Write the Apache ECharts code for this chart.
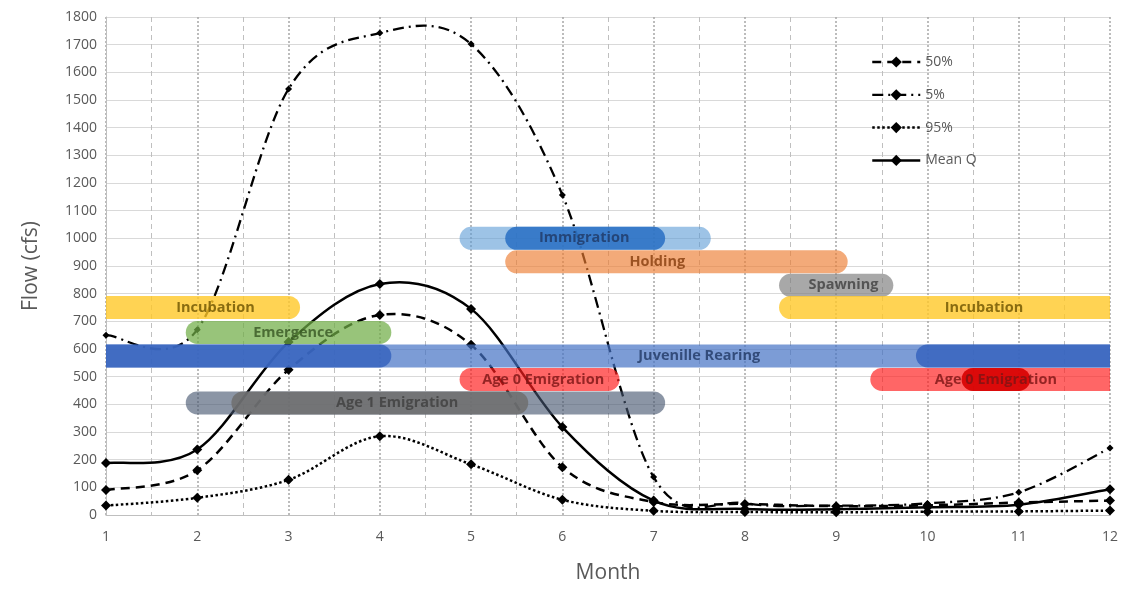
<!DOCTYPE html>
<html>
<head>
<meta charset="utf-8">
<script src="https://cdn.jsdelivr.net/npm/echarts@6/dist/echarts.min.js"></script>
<style>
  html, body { margin: 0; padding: 0; background: #fff; }
  #chart { width: 1134px; height: 589px; }
</style>
</head>
<body>
<div id="chart"></div>
<script>
// Monthly flow exceedance values (cfs)
const months = [1, 2, 3, 4, 5, 6, 7, 8, 9, 10, 11, 12];
const flow50 = [90, 162, 525, 723, 615, 173, 47, 40, 32, 35, 45, 52];
const flow5 = [650, 670, 1540, 1742, 1702, 1157, 137, 43, 34, 42, 82, 242];
const flow95 = [34, 62, 127, 285, 183, 55, 15, 11, 10, 12, 13, 16];
const meanQ = [188, 237, 625, 835, 745, 318, 52, 22, 21, 28, 37, 93];

// Life-stage periods: month span and the flow level each band is drawn at
const phaseNames = ['Incubation', 'Emergence', 'Juvenille Rearing', 'Juvenille Rearing', 'Juvenille Rearing',
  'Immigration', 'Immigration', 'Holding', 'Spawning', 'Incubation',
  'Age 0 Emigration', 'Age 0 Emigration', 'Age 0 Emigration', 'Age 1 Emigration', 'Age 1 Emigration'];
const phaseStart = [1, 2, 1, 1, 10, 5, 5.5, 5.5, 8.5, 8.5, 5, 9.5, 10.5, 2, 2.5];
const phaseEnd = [3, 4, 12, 4, 12, 7.5, 7, 9, 9.5, 12, 6.5, 12, 11, 7, 5.5];
const phaseFlow = [750, 660, 575, 575, 575, 1000, 1000, 915, 830, 750, 490, 490, 490, 405, 405];

// Band captions
const captionText = ['Incubation', 'Emergence', 'Juvenille Rearing', 'Immigration', 'Holding',
  'Spawning', 'Incubation', 'Age 0 Emigration', 'Age 0 Emigration', 'Age 1 Emigration'];
const captionMonth = [2.2, 3.05, 7.5, 6.24, 7.04, 9.08, 10.62, 5.79, 10.75, 4.19];
const captionFlow = [750, 660, 575, 1000, 915, 830, 750, 490, 490, 405];

// Band colours (one per band) and caption colours
const bandColors = [
  'rgba(255,200,40,0.8)', 'rgba(112,173,71,0.72)', 'rgba(68,114,196,0.7)', 'rgba(55,100,190,0.85)', 'rgba(55,100,190,0.85)',
  'rgba(91,155,213,0.6)', 'rgba(40,110,195,0.85)', 'rgba(237,125,49,0.65)', 'rgba(127,127,127,0.68)', 'rgba(255,200,40,0.8)',
  'rgba(255,30,30,0.68)', 'rgba(255,30,30,0.68)', 'rgba(215,0,0,0.9)', 'rgba(68,84,110,0.62)', 'rgba(112,112,112,0.88)'
];
const captionColors = ['#6b5200', '#375623', '#203864', '#1f3864', '#843c0c', '#3f3f3f', '#6b5200', '#7b1414', '#7b1414', '#3f3f3f'];

const BAND_HEIGHT = 23;

const flowDefs = [
  { name: '50%', values: flow50, dash: [9, 6], size: 10, width: 2.5 },
  { name: '5%', values: flow5, dash: [11, 5, 2, 5], size: 7, width: 2.3 },
  { name: '95%', values: flow95, dash: [2.5, 2.5], size: 10, width: 2.5 },
  { name: 'Mean Q', values: meanQ, dash: 'solid', size: 10, width: 2.5 }
];

// Smoothed curve through the points (cardinal spline, control points at 1/6 of neighbour span)
function curveRenderer(values, def) {
  return function (params, api) {
    if (params.dataIndex !== 0) return null;
    const pts = months.map((m, i) => api.coord([m, values[i]]));
    const n = pts.length;
    let d = 'M' + pts[0][0] + ' ' + pts[0][1];
    for (let i = 0; i < n - 1; i++) {
      const p0 = pts[Math.max(i - 1, 0)];
      const p1 = pts[i];
      const p2 = pts[i + 1];
      const p3 = pts[Math.min(i + 2, n - 1)];
      const c1x = p1[0] + (p2[0] - p0[0]) / 6;
      const c1y = p1[1] + (p2[1] - p0[1]) / 6;
      const c2x = p2[0] - (p3[0] - p1[0]) / 6;
      const c2y = p2[1] - (p3[1] - p1[1]) / 6;
      d += ' C' + c1x + ' ' + c1y + ' ' + c2x + ' ' + c2y + ' ' + p2[0] + ' ' + p2[1];
    }
    return {
      type: 'path',
      shape: { pathData: d },
      style: {
        fill: null,
        stroke: '#000',
        lineWidth: def.width,
        lineDash: def.dash === 'solid' ? null : def.dash
      },
      silent: true
    };
  };
}

const curveSeries = flowDefs.map(def => ({
  name: def.name + ' curve',
  type: 'custom',
  coordinateSystem: 'cartesian2d',
  z: 2,
  clip: true,
  data: [[months[0], def.values[0]]],
  renderItem: curveRenderer(def.values, def)
}));

// Diamond markers at each monthly value (also feed the legend)
const markerSeries = flowDefs.map(def => ({
  name: def.name,
  type: 'line',
  data: months.map((m, i) => [m, def.values[i]]),
  symbol: 'diamond',
  symbolSize: def.size,
  z: 2,
  itemStyle: { color: '#000' },
  lineStyle: { opacity: 0 }
}));

// Rounded life-stage bands, cut flat where they run past the plot area
const bandSeries = {
  name: 'bands',
  type: 'custom',
  coordinateSystem: 'cartesian2d',
  z: 3,
  data: phaseNames.map((n, i) => [phaseStart[i], phaseEnd[i], phaseFlow[i], i]),
  renderItem: function (params, api) {
    const s = api.coord([api.value(0), api.value(2)]);
    const e = api.coord([api.value(1), api.value(2)]);
    const idx = api.value(3);
    const r = BAND_HEIGHT / 2;
    const cs = params.coordSys;
    const x0 = s[0] - r, x1 = e[0] + r;
    const left = Math.max(x0, cs.x);
    const right = Math.min(x1, cs.x + cs.width);
    const lr = x0 < cs.x ? 0 : r;
    const rr = x1 > cs.x + cs.width ? 0 : r;
    return {
      type: 'rect',
      shape: { x: left, y: s[1] - r, width: right - left, height: BAND_HEIGHT, r: [lr, rr, rr, lr] },
      style: { fill: bandColors[idx] }
    };
  }
};

const captionSeries = {
  name: 'captions',
  type: 'scatter',
  symbolSize: 0,
  z: 5,
  data: captionText.map((t, i) => ({
    name: t,
    value: [captionMonth[i], captionFlow[i]],
    label: { color: captionColors[i] }
  })),
  label: {
    show: true,
    position: 'inside',
    formatter: '{b}',
    fontFamily: 'Open Sans',
    fontWeight: 'bold',
    fontSize: 14.5
  }
};

const chart = echarts.init(document.getElementById('chart'), null, { renderer: 'canvas' });
chart.setOption({
  animation: false,
  backgroundColor: '#fff',
  grid: { left: 106, right: 24, top: 17, bottom: 74 },
  legend: {
    data: flowDefs.map(def => ({
      name: def.name,
      lineStyle: { color: '#000', width: def.width, type: def.dash, opacity: 1 }
    })),
    orient: 'vertical',
    left: 866,
    top: 50,
    itemWidth: 48,
    itemHeight: 14,
    itemGap: 18.8,
    textStyle: { color: '#595959', fontSize: 14, fontFamily: 'Open Sans' }
  },
  xAxis: {
    type: 'value',
    min: 1,
    max: 12,
    interval: 1,
    name: 'Month',
    nameLocation: 'middle',
    nameGap: 48,
    nameTextStyle: { color: '#595959', fontSize: 21, fontFamily: 'Open Sans' },
    axisLine: { lineStyle: { color: '#bfbfbf' } },
    axisTick: { show: false },
    axisLabel: { color: '#595959', fontSize: 14, fontFamily: 'Open Sans', margin: 15 },
    splitLine: { show: true, lineStyle: { color: '#a6a6a6', type: [2, 2], width: 1.5 } },
    minorTick: { show: false, splitNumber: 2 },
    minorSplitLine: { show: true, lineStyle: { color: '#bfbfbf', type: [5, 4], width: 1 } }
  },
  yAxis: {
    type: 'value',
    min: 0,
    max: 1800,
    interval: 100,
    name: 'Flow (cfs)',
    nameLocation: 'middle',
    nameGap: 64,
    nameTextStyle: { color: '#595959', fontSize: 21, fontFamily: 'Open Sans' },
    axisLine: { show: true, lineStyle: { color: '#bfbfbf' } },
    axisTick: { show: false },
    axisLabel: { color: '#595959', fontSize: 14, fontFamily: 'Open Sans', margin: 9, formatter: v => String(v) },
    splitLine: { show: true, lineStyle: { color: '#d9d9d9', width: 1 } }
  },
  series: [...curveSeries, ...markerSeries, bandSeries, captionSeries]
});
</script>
</body>
</html>
